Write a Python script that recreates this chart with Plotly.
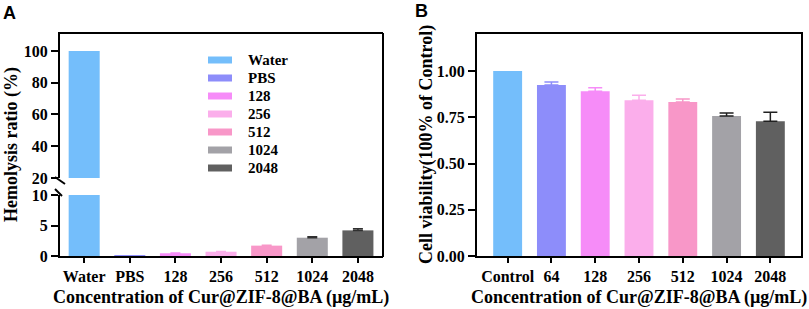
import plotly.graph_objects as go

# ---------------- data ----------------
hemo_categories = ["Water", "PBS", "128", "256", "512", "1024", "2048"]
hemo_values = [100.0, 0.02, 0.45, 0.7, 1.7, 3.0, 4.2]
hemo_errors = [0.0, 0.0, 0.05, 0.05, 0.08, 0.15, 0.25]

via_categories = ["Control", "64", "128", "256", "512", "1024", "2048"]
via_values = [1.00, 0.924, 0.891, 0.842, 0.832, 0.757, 0.728]
via_errors = [0.0, 0.016, 0.018, 0.027, 0.016, 0.016, 0.049]

colors = ["#74BEFB", "#8D8DFA", "#F68CF8", "#FBAEEB", "#F897C8", "#A3A2A7", "#606060"]

hemo_upper_ticks = [20, 40, 60, 80, 100]
hemo_lower_ticks = [0, 5, 10]
via_ticks = [0.0, 0.25, 0.5, 0.75, 1.0]
via_ticktext = ["0.00", "0.25", "0.50", "0.75", "1.00"]

xtitle = "Concentration of Cur@ZIF-8@BA (µg/mL)"

# ---------------- layout helpers ----------------
W, H = 809, 309
def X(p):
    return p / W
def Y(p):
    return 1 - p / H

SERIF = "Liberation Serif, 'Times New Roman', Times, serif"
tickfont = dict(family=SERIF, size=16, color="black", weight="bold")

fig = go.Figure()

# Panel A lower (x, y) and upper (x2, y2)
for i, (c, v, e) in enumerate(zip(hemo_categories, hemo_values, hemo_errors)):
    fig.add_trace(go.Bar(
        x=[c], y=[v], width=0.68, marker=dict(color=colors[i], line=dict(width=0)),
        error_y=dict(type="data", array=[e], arrayminus=[0], symmetric=False,
                     color=colors[i] if i < 5 else "#303030", thickness=1.5, width=5,
                     visible=e > 0),
        xaxis="x", yaxis="y", showlegend=False, hoverinfo="skip"))
fig.add_trace(go.Bar(
    x=[hemo_categories[0]], y=[hemo_values[0]], width=0.68,
    marker=dict(color=colors[0], line=dict(width=0)),
    xaxis="x2", yaxis="y2", showlegend=False, hoverinfo="skip"))

# Panel B (x3, y3)
for i, (c, v, e) in enumerate(zip(via_categories, via_values, via_errors)):
    fig.add_trace(go.Bar(
        x=[c], y=[v], width=0.66, marker=dict(color=colors[i], line=dict(width=0)),
        error_y=dict(type="data", array=[e], arrayminus=[0], symmetric=False,
                     color=colors[i] if i < 5 else "#202020", thickness=1.5, width=7,
                     visible=e > 0),
        xaxis="x3", yaxis="y3", showlegend=False, hoverinfo="skip"))

axis_common = dict(showgrid=False, zeroline=False, linecolor="black", linewidth=2,
                   tickcolor="black", tickwidth=2, tickfont=tickfont, fixedrange=True,
                   automargin=False)

A_dom_x = [X(60), X(383)]
B_dom_x = [X(477), X(801)]

fig.update_layout(
    width=W, height=H, margin=dict(l=0, r=0, t=0, b=0, autoexpand=False),
    paper_bgcolor="white", plot_bgcolor="white", barmode="overlay",
    font=dict(family=SERIF, color="black"),
    xaxis=dict(domain=A_dom_x, anchor="y", type="category", categoryorder="array",
               categoryarray=hemo_categories, range=[-0.53, 6.55], showline=True,
               ticks="outside", ticklen=5, **axis_common),
    yaxis=dict(domain=[Y(256), Y(195)], anchor="x", range=[0, 10], tickvals=hemo_lower_ticks,
               showline=True, ticks="outside", ticklen=7, **axis_common),
    xaxis2=dict(domain=A_dom_x, anchor="y2", type="category", categoryorder="array",
                categoryarray=hemo_categories, range=[-0.53, 6.55], side="top",
                showline=True, showticklabels=False, ticks="", **axis_common),
    yaxis2=dict(domain=[Y(178), Y(34)], anchor="x2", range=[20, 110.7],
                tickvals=hemo_upper_ticks, showline=True, ticks="outside", ticklen=7,
                **axis_common),
    xaxis3=dict(domain=B_dom_x, anchor="y3", type="category", categoryorder="array",
                categoryarray=via_categories, range=[-0.7, 6.7], showline=True, mirror=True,
                ticks="outside", ticklen=5, **axis_common),
    yaxis3=dict(domain=[Y(256), Y(34)], anchor="x3", range=[0, 1.2], tickvals=via_ticks,
                ticktext=via_ticktext, showline=True, mirror=True, ticks="outside",
                ticklen=7, **axis_common),
)

shapes = []
# right border of panel A (continuous)
shapes.append(dict(type="line", xref="paper", yref="paper", x0=X(383), x1=X(383),
                   y0=Y(257), y1=Y(33), line=dict(color="black", width=2)))
# axis break marks
shapes.append(dict(type="line", xref="paper", yref="paper", x0=X(55), y0=Y(177),
                   x1=X(65), y1=Y(184), line=dict(color="black", width=2)))
shapes.append(dict(type="line", xref="paper", yref="paper", x0=X(55), y0=Y(189),
                   x1=X(62), y1=Y(196), line=dict(color="black", width=2)))
# legend swatches for panel A
annotations = []
for i, c in enumerate(hemo_categories):
    yc = 60 + i * 18
    shapes.append(dict(type="rect", xref="paper", yref="paper", x0=X(208), x1=X(232),
                       y0=Y(yc + 3.5), y1=Y(yc - 3.5), fillcolor=colors[i],
                       line=dict(width=0)))
    annotations.append(dict(text=c, xref="paper", yref="paper", x=X(246), y=Y(yc),
                            xanchor="left", yanchor="middle", showarrow=False,
                            font=dict(family=SERIF, size=15, color="black", weight="bold")))

titlefont = dict(family=SERIF, size=18, color="black", weight="bold")
annotations += [
    dict(text=xtitle, xref="paper", yref="paper", x=X(221.5), y=Y(297), xanchor="center",
         yanchor="middle", showarrow=False, font=titlefont),
    dict(text=xtitle, xref="paper", yref="paper", x=X(639), y=Y(297), xanchor="center",
         yanchor="middle", showarrow=False, font=titlefont),
    dict(text="Hemolysis ratio (%)", xref="paper", yref="paper", x=X(11), y=Y(145),
         xanchor="center", yanchor="middle", textangle=-90, showarrow=False, font=titlefont),
    dict(text="Cell viability(100% of Control)", xref="paper", yref="paper", x=X(426),
         y=Y(145), xanchor="center", yanchor="middle", textangle=-90, showarrow=False,
         font=titlefont),
    dict(text="A", xref="paper", yref="paper", x=X(9), y=Y(13), xanchor="center",
         yanchor="middle", showarrow=False,
         font=dict(family="Liberation Sans, Arial, sans-serif", size=18, color="black",
                   weight="bold")),
    dict(text="B", xref="paper", yref="paper", x=X(421), y=Y(11), xanchor="center",
         yanchor="middle", showarrow=False,
         font=dict(family="Liberation Sans, Arial, sans-serif", size=18, color="black",
                   weight="bold")),
]
fig.update_layout(shapes=shapes, annotations=annotations)

fig.write_html("out.html", config=dict(displayModeBar=False),
               post_script="document.body.style.margin='0';document.body.style.overflow='hidden';")
